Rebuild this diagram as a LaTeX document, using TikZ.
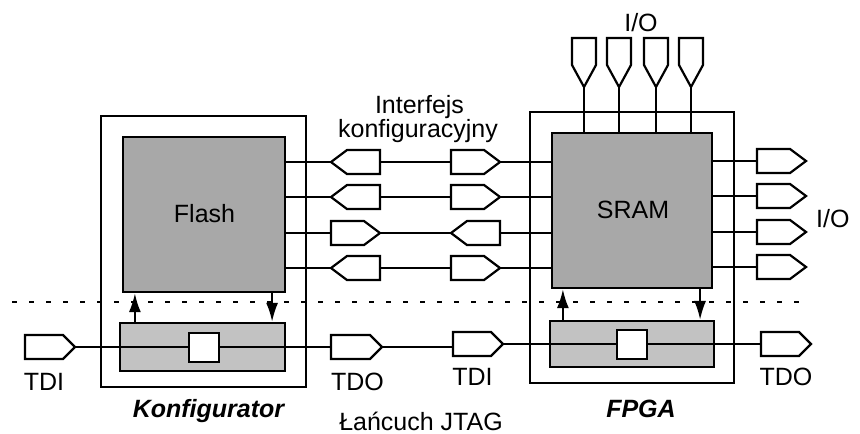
\documentclass[tikz,border=0pt]{standalone}
\usepackage{fontspec}
\setmainfont{Liberation Sans}
\usetikzlibrary{arrows.meta}
\definecolor{darkbox}{gray}{0.66}
\definecolor{lightbox}{gray}{0.76}
\tikzset{
  lw/.style={line width=2.2pt},
  box/.style={draw,lw,rectangle,inner sep=0pt},
  lbl/.style={font=\fontsize{25}{24}\selectfont,inner sep=0pt,anchor=base},
  bilbl/.style={lbl,font=\fontsize{25}{24}\selectfont\bfseries\itshape},
  wire/.style={lw},
  arr/.style={lw,-{Latex[length=19pt,width=12pt]}},
  pics/bufE/.style 2 args={code={
    \draw[lw,fill=white] (0,-12) -- (#1-#2,-12) -- (#1,0) -- (#1-#2,12) -- (0,12) -- cycle;
    \coordinate (-w) at (0,0); \coordinate (-e) at (#1,0);}},
  pics/bufW/.style 2 args={code={
    \draw[lw,fill=white] (0,0) -- (#2,-12) -- (#1,-12) -- (#1,12) -- (#2,12) -- cycle;
    \coordinate (-w) at (0,0); \coordinate (-e) at (#1,0);}},
  pics/bufS/.style={code={
    \draw[lw,fill=white] (-12,0) -- (12,0) -- (12,27) -- (0,49) -- (-12,27) -- cycle;
    \coordinate (-s) at (0,49);}},
}
\begin{document}
\begin{tikzpicture}[x=1pt,y=-1pt]
\useasboundingbox (0,0) rectangle (860,434);
% dotted separator
\coordinate (dl) at (12,302); \coordinate (dr) at (810,302);
\draw[lw,dash pattern=on 5pt off 12pt] (dl) -- (dr);
% outer boxes
\node[box,minimum width=205pt,minimum height=271pt] (konf) at (203.5,251.5) {};
\node[box,minimum width=204pt,minimum height=271pt] (fpga) at (632,247.5) {};
% inner memory boxes
\node[box,fill=darkbox,minimum width=162pt,minimum height=155pt] (flash) at (204,214.5) {};
\node[lbl] at (204.5,222) {Flash};
\node[box,fill=darkbox,minimum width=160pt,minimum height=155pt] (sram) at (632,210.5) {};
\node[lbl] at (633,218) {SRAM};
% JTAG boxes
\node[box,fill=lightbox,minimum width=165pt,minimum height=48pt] (kj) at (202.5,347) {};
\node[box,fill=lightbox,minimum width=164pt,minimum height=46pt] (fj) at (632,344) {};
% interface buffers
\pic (a1) at (331,162) {bufW={49}{16}};
\pic (b1) at (451,162) {bufE={49}{16}};
\pic (a2) at (331,197) {bufW={49}{16}};
\pic (b2) at (451,197) {bufE={49}{16}};
\pic (a3) at (331,233) {bufE={49}{16}};
\pic (b3) at (451,233) {bufW={49}{16}};
\pic (a4) at (331,268) {bufW={49}{16}};
\pic (b4) at (451,268) {bufE={49}{16}};
\foreach \i in {1,2,3,4}{
  \draw[wire] (flash.east |- a\i-w) -- (a\i-w);
  \draw[wire] (a\i-e) -- (b\i-w);
  \draw[wire] (b\i-e) -- (sram.west |- b\i-e);
}
% right I/O
\pic (r1) at (757,161) {bufE={49}{16}};
\pic (r2) at (757,196) {bufE={49}{16}};
\pic (r3) at (757,232) {bufE={49}{16}};
\pic (r4) at (757,267) {bufE={49}{16}};
\foreach \i in {1,2,3,4}{
  \draw[wire] (sram.east |- r\i-w) -- (r\i-w);
}
\node[lbl,anchor=base west] at (816,227) {I/O};
% top I/O
\pic (t1) at (584,38) {bufS};
\pic (t2) at (619,38) {bufS};
\pic (t3) at (656,38) {bufS};
\pic (t4) at (691,38) {bufS};
\foreach \i in {1,2,3,4}{
  \draw[wire] (t\i-s) -- (t\i-s |- sram.north);
}
\node[lbl] at (641,31) {I/O};
% interface label
\node[lbl] at (419.5,113) {Interfejs};
\node[lbl] at (418,137) {konfiguracyjny};
% JTAG chain
\node[box,fill=white,minimum width=30pt,minimum height=29pt] (ks) at (204,347.5) {};
\node[box,fill=white,minimum width=30pt,minimum height=29pt] (fs) at (632,344.5) {};
\pic (tdi1) at (25,347) {bufE={50}{12}};
\pic (tdo1) at (331,347) {bufE={51}{12}};
\pic (tdi2) at (453,344) {bufE={50}{12}};
\pic (tdo2) at (761,344) {bufE={50}{12}};
\draw[wire] (tdi1-e) -- (ks.west |- tdi1-e);
\draw[wire] (ks.east |- tdo1-w) -- (tdo1-w);
\draw[wire] (tdo1-e) -- (tdo1-e -| tdi2-w);
\draw[wire] (tdi2-e) -- (fs.west |- tdi2-e);
\draw[wire] (fs.east |- tdo2-w) -- (tdo2-w);
% arrows between JTAG and memories
\draw[arr] ([xshift=16pt]kj.north west) -- ([xshift=16pt]kj.north west |- flash.south);
\draw[arr] ([xshift=-14pt]kj.north east |- flash.south) -- ([xshift=-14pt]kj.north east);
\draw[arr] ([xshift=14pt]fj.north west) -- ([xshift=14pt]fj.north west |- sram.south);
\draw[arr] ([xshift=-15pt]fj.north east |- sram.south) -- ([xshift=-15pt]fj.north east);
% labels
\node[lbl] at (44,390) {TDI};
\node[lbl] at (357.5,390) {TDO};
\node[lbl] at (472.5,385) {TDI};
\node[lbl] at (786,385) {TDO};
\node[bilbl] at (208.5,417) {Konfigurator};
\node[bilbl] at (641,417) {FPGA};
\node[lbl] at (421,430) {Łańcuch JTAG};
\end{tikzpicture}
\end{document}
